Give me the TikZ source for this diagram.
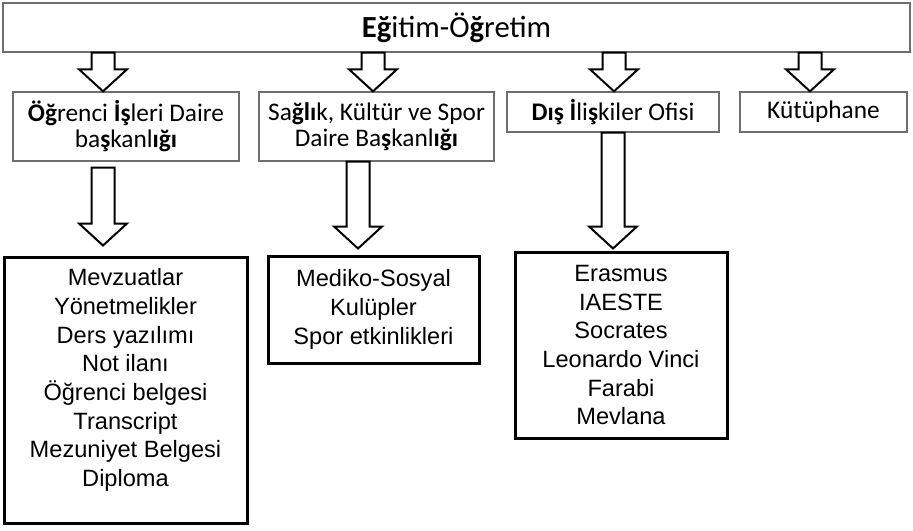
\documentclass[tikz,border=0pt]{standalone}
\usepackage{fontspec}
\setmainfont{Carlito}
\newfontfamily\arialfont{Liberation Sans}
\usetikzlibrary{calc}

\definecolor{boxgray}{RGB}{110,110,110}

\tikzset{every picture/.style={line width=0.75pt}}
\tikzset{
  unitbox/.style={draw=boxgray, line width=1, fill=white, align=center, inner sep=0pt, font=\fontsize{19}{19.5}\selectfont},
  listbox/.style={draw=black, line width=2.25, align=center, inner sep=0pt, font=\arialfont\fontsize{17.7}{21.5}\selectfont},
  blockarrow/.style={draw=black, fill=white, line width=1.5, line join=miter},
}

% block arrow from shaft top (#1) to tip (#2)
\newcommand{\blockarrow}[2]{%
  \draw[blockarrow] ($(#1)+(-11.5,0)$) -- ($(#1)+(11.5,0)$) -- ($(#1 |- #2)+(11.5,-22)$) -- ($(#1 |- #2)+(24,-22)$) -- (#2) -- ($(#1 |- #2)+(-24,-22)$) -- ($(#1 |- #2)+(-11.5,-22)$) -- cycle ;}

\begin{document}
\begin{tikzpicture}[x=0.75pt,y=0.75pt,yscale=-1,xscale=1]
  \useasboundingbox (0,0) rectangle (913,531);

  %Shape: Rectangle [id:top]
  \node[unitbox, minimum width=680.25pt, minimum height=36.75pt, font=\fontsize{23}{25}\selectfont] (top) at (456.5,27.5) {\textbf{Eğ}itim-Ö\textbf{ğ}retim};

  %Shape: Rectangle [id:units]
  \node[unitbox, minimum width=169.5pt, minimum height=51.75pt] (oib) at (126,126.5) {\textbf{Öğ}renci \textbf{İş}leri Daire\\ba\textbf{ş}kanl\textbf{ığı}};
  \node[unitbox, minimum width=176.25pt, minimum height=51.75pt] (skb) at (376.5,126.5) {Sa\textbf{ğlı}k, Kültür ve Spor\\Daire Ba\textbf{ş}kanl\textbf{ığı}};
  \node[unitbox, minimum width=159pt, minimum height=30pt] (dio) at (613,112) {\textbf{Dış İ}li\textbf{ş}kiler Ofisi};
  \node[unitbox, minimum width=125.25pt, minimum height=30pt] (kut) at (823.5,112) {Kütüphane};

  %Shape: Rectangle [id:lists]
  \node[listbox, minimum width=182.25pt, minimum height=199.5pt, text depth=18.5pt] (lst1) at (125.5,390) {Mevzuatlar\\Yönetmelikler\\Ders yazılımı\\Not ilanı\\Öğrenci belgesi\\Transcript\\Mezuniyet Belgesi\\Diploma};
  \node[listbox, minimum width=158.25pt, minimum height=80.25pt] (lst2) at (373.5,309.5) {Mediko-Sosyal\\Kulüpler\\Spor etkinlikleri};
  \node[listbox, minimum width=159pt, minimum height=139.5pt] (lst3) at (621,345) {Erasmus\\IAESTE\\Socrates\\Leonardo Vinci\\Farabi\\Mevlana};

  %Block Arrows: top -> units
  \foreach \ax/\unit [count=\i] in {103/oib,373/skb,614/dio,810/kut}{
    \path (\ax,0) coordinate (c\i);
    \coordinate (u\i) at (top.south -| c\i);
    \coordinate (v\i) at (\unit.north -| c\i);
    \blockarrow{u\i}{v\i}
  }

  %Block Arrows: units -> lists
  \path (103,0) coordinate (d1) (358,0) coordinate (d2) (613,0) coordinate (d3);
  \coordinate (p1) at ($(oib.south -| d1)+(0,6)$);
  \coordinate (q1) at ($(lst1.north -| d1)+(0,-10)$);
  \blockarrow{p1}{q1}
  \coordinate (p2) at (skb.south -| d2);
  \coordinate (q2) at ($(lst2.north -| d2)+(0,-6)$);
  \blockarrow{p2}{q2}
  \coordinate (p3) at (dio.south -| d3);
  \coordinate (q3) at ($(lst3.north -| d3)+(0,-2)$);
  \blockarrow{p3}{q3}

\end{tikzpicture}
\end{document}
